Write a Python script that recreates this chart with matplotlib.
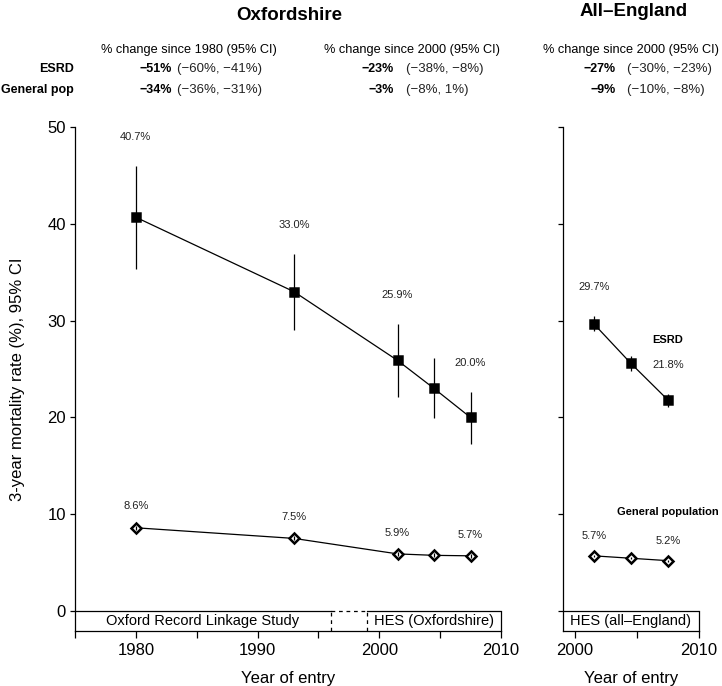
import matplotlib
matplotlib.use('Agg')
import matplotlib.pyplot as plt

plt.rcParams['font.family'] = ['Liberation Sans', 'DejaVu Sans']

# Oxfordshire (ORLS + HES Oxfordshire)
ox_years = [1980, 1993, 2001.5, 2004.5, 2007.5]
ox_esrd = [40.7, 33.0, 25.9, 23.0, 20.0]
ox_esrd_lo = [35.4, 29.0, 22.1, 19.9, 17.3]
ox_esrd_hi = [46.0, 36.9, 29.7, 26.1, 22.6]
ox_gen = [8.6, 7.5, 5.9, 5.75, 5.7]
ox_gen_lo = [8.4, 7.3, 5.7, 5.55, 5.5]
ox_gen_hi = [8.8, 7.7, 6.1, 5.95, 5.9]
ox_labelled = [0, 1, 2, 4]

# All-England (HES)
en_years = [2001.5, 2004.5, 2007.5]
en_esrd = [29.7, 25.6, 21.8]
en_esrd_lo = [28.9, 24.8, 21.1]
en_esrd_hi = [30.5, 26.4, 22.4]
en_gen = [5.7, 5.45, 5.2]
en_gen_lo = [5.6, 5.35, 5.1]
en_gen_hi = [5.8, 5.55, 5.3]
en_labelled = [0, 2]

# table of % change
row_names = ['ESRD', 'General pop']
col_headers = ['% change since 1980 (95% CI)', '% change since 2000 (95% CI)',
               '% change since 2000 (95% CI)']
pct_change = [['\u221251%', '\u221223%', '\u221227%'],
              ['\u221234%', '\u22123%', '\u22129%']]
pct_ci = [['(\u221260%, \u221241%)', '(\u221238%, \u22128%)', '(\u221230%, \u221223%)'],
          ['(\u221236%, \u221231%)', '(\u22128%, 1%)', '(\u221210%, \u22128%)']]

W, H = 722, 686
YMIN, YMAX = -2.04, 50
BREAK = (1996, 1999)


def fx(px):
    return px / W


def fy(py):
    return 1 - py / H


def draw_series(ax, x, y, lo, hi, marker, face, ms):
    ax.vlines(x, lo, hi, color='black', lw=0.9, zorder=4)
    ax.plot(x, y, color='black', lw=0.9, marker=marker, ms=ms, mfc=face,
            mec='black', mew=1.8, zorder=3)


def label_points(ax, x, vals, tops, idx, off):
    for i in idx:
        ax.text(x[i], tops[i] + off, '{:.1f}%'.format(vals[i]), ha='center',
                va='center', fontsize=8, color='#222222')


def style_axes(ax):
    ax.set_ylim(YMIN, YMAX)
    ax.spines['top'].set_visible(False)
    ax.spines['right'].set_bounds(YMIN, 0)
    for s in ax.spines.values():
        s.set_linewidth(0.9)
    ax.set_yticks([0, 10, 20, 30, 40, 50])
    ax.tick_params(axis='y', length=3.5, width=0.9, labelsize=12, pad=3)
    ax.tick_params(axis='x', length=5, width=0.9, labelsize=12, pad=4)
    ax.set_xlabel('Year of entry', fontsize=12, labelpad=9)


fig = plt.figure(figsize=(W / 100, H / 100), dpi=100)
ax1 = fig.add_axes([fx(75), fy(630.7), fx(501 - 75), fy(127.3) - fy(630.7)])
ax2 = fig.add_axes([fx(562.7), fy(630.7), fx(699 - 562.7), fy(127.3) - fy(630.7)])

# left panel
ax1.set_xlim(1975, 2010)
style_axes(ax1)
ax1.set_xticks(range(1975, 2011, 5))
ax1.set_xticklabels([str(y) if y % 10 == 0 else '' for y in range(1975, 2011, 5)])
ax1.plot([1975, BREAK[0]], [0, 0], color='black', lw=0.9)
ax1.plot([BREAK[0], BREAK[1]], [0, 0], color='black', lw=0.9, ls=(0, (3, 3)))
ax1.plot([BREAK[1], 2010], [0, 0], color='black', lw=0.9)
ax1.vlines(BREAK, YMIN, 0, color='black', lw=0.9, linestyles=(0, (3, 3)))
ax1.text((1975 + BREAK[0]) / 2, YMIN / 2, 'Oxford Record Linkage Study',
         ha='center', va='center', fontsize=10.5)
ax1.text((BREAK[1] + 2010) / 2, YMIN / 2, 'HES (Oxfordshire)',
         ha='center', va='center', fontsize=10.5)

draw_series(ax1, ox_years, ox_esrd, ox_esrd_lo, ox_esrd_hi, 's', 'black', 5.5)
draw_series(ax1, ox_years, ox_gen, ox_gen_lo, ox_gen_hi, 'D', 'white', 5.2)
label_points(ax1, ox_years, ox_esrd, ox_esrd_hi, ox_labelled, 3.0)
label_points(ax1, ox_years, ox_gen, ox_gen, ox_labelled, 2.2)
ax1.set_ylabel('3-year mortality rate (%), 95% CI', fontsize=12, labelpad=16)

# right panel
ax2.set_xlim(1999, 2010)
style_axes(ax2)
ax2.set_yticklabels([])
ax2.set_xticks([2000, 2005, 2010])
ax2.set_xticklabels(['2000', '', '2010'])
ax2.axhline(0, color='black', lw=0.9)
ax2.text(2004.5, YMIN / 2, 'HES (all\u2013England)', ha='center', va='center', fontsize=10.5)

draw_series(ax2, en_years, en_esrd, en_esrd_lo, en_esrd_hi, 's', 'black', 5.5)
draw_series(ax2, en_years, en_gen, en_gen_lo, en_gen_hi, 'D', 'white', 5.2)
label_points(ax2, en_years, en_esrd, en_esrd_hi, en_labelled, 3.0)
label_points(ax2, en_years, en_gen, en_gen, en_labelled, 2.0)
ax2.text(2007.5, 28.0, 'ESRD', ha='center', va='center', fontsize=8, fontweight='bold')
ax2.text(2007.5, 10.2, 'General population', ha='center', va='center',
         fontsize=8, fontweight='bold')

# titles and table
fig.text(fx(289), fy(15), 'Oxfordshire', ha='center', va='center', fontsize=13.5,
         fontweight='bold')
fig.text(fx(634), fy(12), 'All\u2013England', ha='center', va='center', fontsize=13.5,
         fontweight='bold')

head_x = [189, 412, 631]
val_x = [172, 393.5, 615.7]
ci_x = [177, 406.5, 627.3]
row_y = [69, 90]
for c in range(3):
    fig.text(fx(head_x[c]), fy(50), col_headers[c], ha='center', va='center', fontsize=9.2)
for r in range(2):
    fig.text(fx(74), fy(row_y[r]), row_names[r], ha='right', va='center',
             fontsize=9, fontweight='bold')
    for c in range(3):
        fig.text(fx(val_x[c]), fy(row_y[r]), pct_change[r][c], ha='right', va='center',
                 fontsize=9, fontweight='bold')
        fig.text(fx(ci_x[c]), fy(row_y[r]), pct_ci[r][c], ha='left', va='center',
                 fontsize=9.5, color='#222222')

fig.savefig('out.png', dpi=100)
